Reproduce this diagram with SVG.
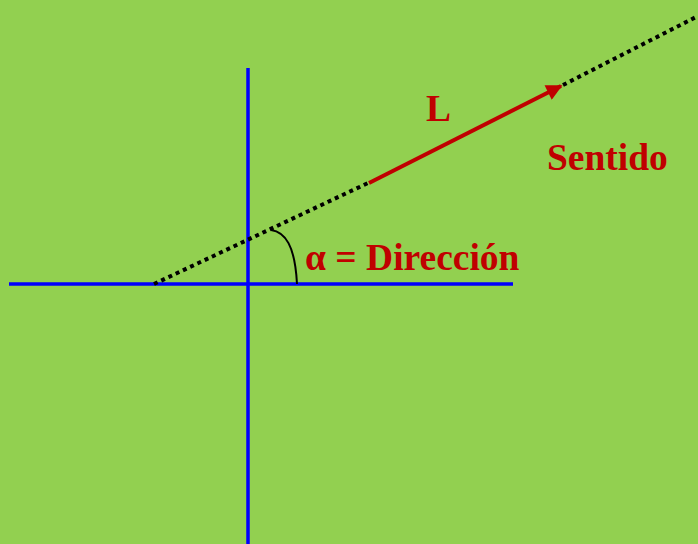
<svg xmlns="http://www.w3.org/2000/svg" width="698" height="544" viewBox="0 0 698 544">
<defs>
<style>
.axis{stroke:#0000FF;stroke-width:3.5;fill:none}
.dot{stroke:#000;stroke-width:4;stroke-dasharray:4 4;fill:none}
.lbl{font-family:"Liberation Serif","Times New Roman",serif;font-weight:bold;font-size:37.5px;fill:#C00000}
</style>
<marker id="ah" viewBox="0 0 10 10" refX="9" refY="5" markerWidth="4.5" markerHeight="4" orient="auto" markerUnits="strokeWidth">
<path d="M0,0 L10,5 L0,10 z" fill="#C00000"/>
</marker>
</defs>
<rect width="698" height="544" fill="#92D050"/>
<g id="axes">
<line class="axis" x1="9" y1="284" x2="513" y2="284"/>
<line class="axis" x1="248" y1="68" x2="248" y2="544"/>
</g>
<g id="connectors">
<line class="dot" x1="154" y1="284" x2="368" y2="183"/>
<line x1="369" y1="183" x2="561" y2="86" stroke="#C00000" stroke-width="4" marker-end="url(#ah)"/>
<line class="dot" x1="563" y1="85" x2="698" y2="16"/>
<path d="M271,230 C285,232 295,245 297,284" fill="none" stroke="#000" stroke-width="2"/>
</g>
<g id="labels">
<text class="lbl" x="426" y="121">L</text>
<text class="lbl" x="547" y="170">Sentido</text>
<text class="lbl" x="305" y="270">α = Dirección</text>
</g>
</svg>
